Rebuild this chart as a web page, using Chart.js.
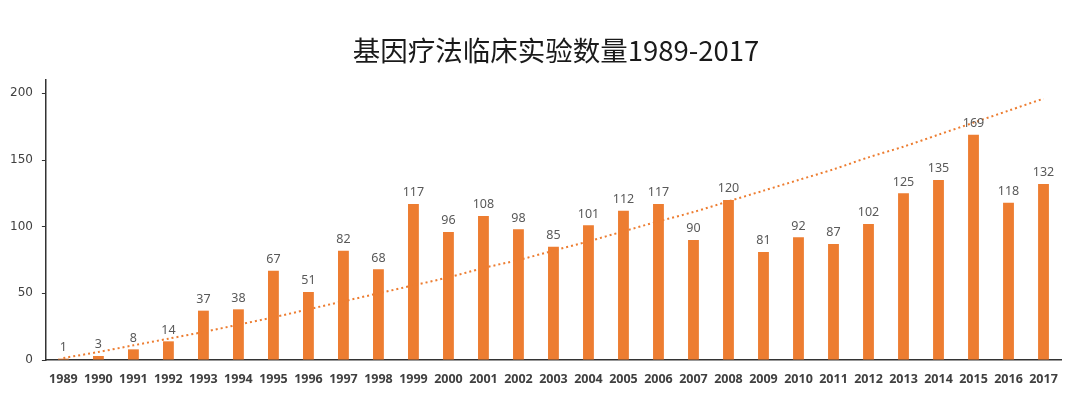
<!DOCTYPE html>
<html>
<head>
<meta charset="utf-8">
<script src="https://cdn.jsdelivr.net/npm/chart.js@4.4.0/dist/chart.umd.min.js"></script>
<style>
  html, body { margin: 0; padding: 0; background: #fff; }
  #wrap { width: 1080px; height: 398px; position: relative; }
</style>
</head>
<body>
<div id="wrap"><canvas id="barChart"></canvas></div>
<script>
// data
const years = ['1989','1990','1991','1992','1993','1994','1995','1996','1997','1998',
  '1999','2000','2001','2002','2003','2004','2005','2006','2007','2008',
  '2009','2010','2011','2012','2013','2014','2015','2016','2017'];
const trials = [1, 3, 8, 14, 37, 38, 67, 51, 82, 68,
  117, 96, 108, 98, 85, 101, 112, 117, 90, 120,
  81, 92, 87, 102, 125, 135, 169, 118, 132];
// dotted trend line, estimated at each year from the picture
const trend = [1.5, 6, 11, 16, 21, 26.5, 32, 38, 44, 50,
  56, 62, 69, 75, 82, 89, 96.5, 104, 111, 119,
  127, 135, 143, 152, 160, 169, 178, 187, 196];
const yTicks = [0, 50, 100, 150, 200];
const titleText = '基因疗法临床实验数量1989-2017';

const orange = '#ED7D31';

// writes the value above each bar, and the title (it sits a bit right of centre)
const barLabels = {
  id: 'barLabels',
  afterDatasetsDraw(chart) {
    const ctx = chart.ctx;
    const meta = chart.getDatasetMeta(0);
    ctx.save();
    ctx.font = '12.5px "Noto Sans"';
    ctx.fillStyle = '#595959';
    ctx.textAlign = 'center';
    ctx.textBaseline = 'bottom';
    meta.data.forEach((bar, i) => {
      ctx.fillText(String(trials[i]), bar.x, bar.y - 5);
    });

    ctx.font = '27.5px "Noto Sans CJK SC"';
    ctx.fillStyle = '#1a1a1a';
    ctx.textBaseline = 'middle';
    ctx.fillText(titleText, 556, 51);
    ctx.restore();
  }
};

let ctx = document.getElementById('barChart').getContext('2d');

let myChart = new Chart(ctx, {
  type: 'bar',
  data: {
    labels: years,
    datasets: [
      {
        label: '数量',
        data: trials,
        backgroundColor: orange,
        barPercentage: 0.62,
        categoryPercentage: 0.5,
        order: 2
      },
      {
        type: 'line',
        label: 'trend',
        data: trend,
        borderColor: orange,
        borderWidth: 2,
        borderDash: [2, 3],
        pointRadius: 0,
        fill: false,
        tension: 0.3,
        order: 1
      }
    ]
  },
  options: {
    responsive: true,
    maintainAspectRatio: false,
    animation: false,
    layout: { padding: { left: 1, right: 19, top: 80, bottom: -1 } },
    plugins: {
      legend: { display: false },
      tooltip: { enabled: false },
      title: { display: false }
    },
    scales: {
      x: {
        grid: { display: false, drawTicks: false },
        border: { display: true, color: '#333', width: 1.5 },
        ticks: {
          color: '#404040',
          padding: 12,
          maxRotation: 0,
          autoSkip: false,
          font: { family: '"Noto Sans"', size: 12.5, weight: 'bold' }
        }
      },
      y: {
        min: 0,
        max: 210,
        afterBuildTicks: (axis) => {
          axis.ticks = yTicks.map(v => ({ value: v }));
        },
        grid: { drawOnChartArea: false, drawTicks: true, tickLength: 4, tickColor: '#333' },
        border: { display: true, color: '#333', width: 1.5 },
        ticks: {
          color: '#404040',
          padding: 9,
          font: { family: '"DejaVu Sans"', size: 12 }
        }
      }
    }
  },
  plugins: [barLabels]
});
</script>
</body>
</html>
